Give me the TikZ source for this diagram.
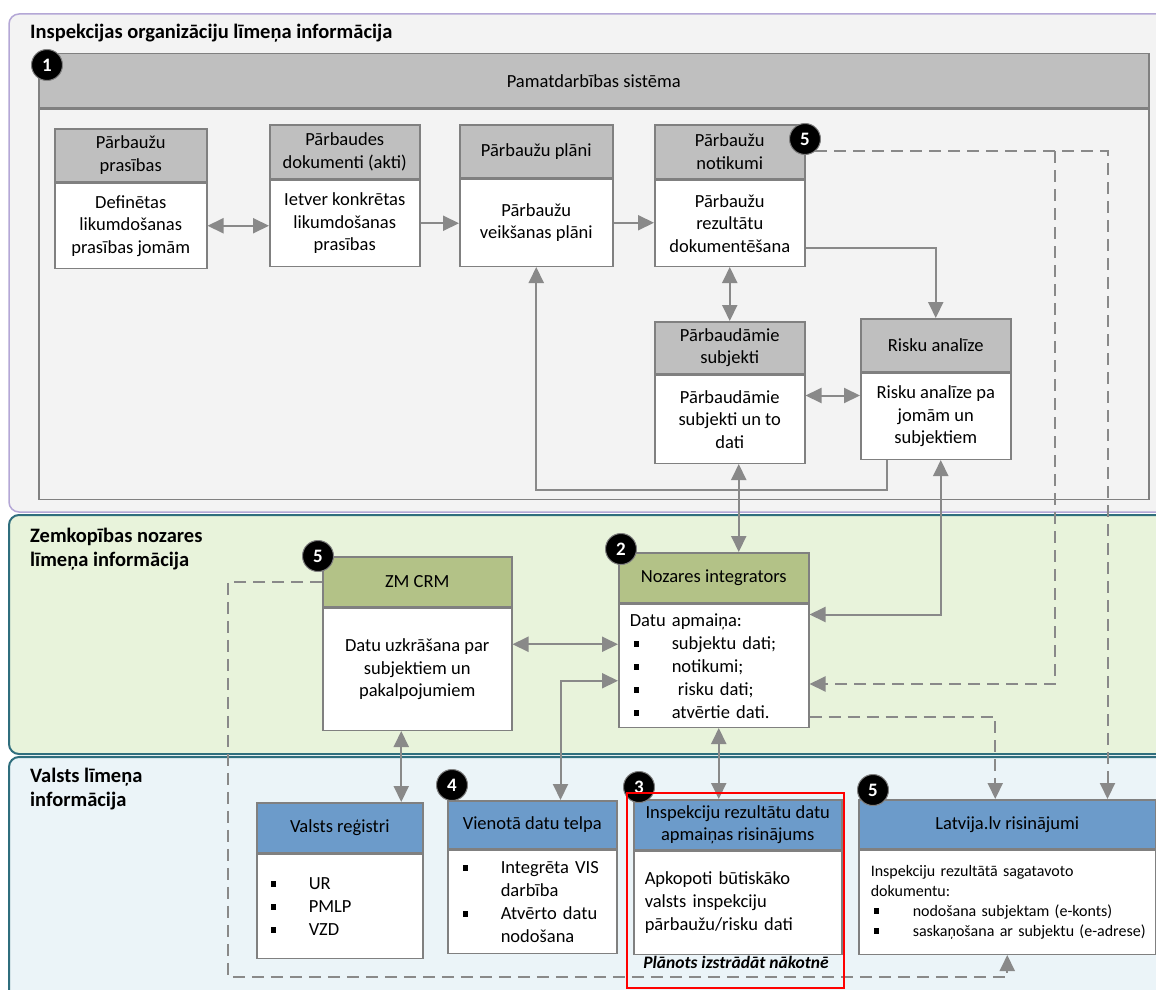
\documentclass[tikz,border=0pt]{standalone}
\usepackage{fontspec}
\setmainfont{Carlito}
\usetikzlibrary{arrows.meta}

\definecolor{panelgray}{HTML}{F3F3F3}
\definecolor{panelline}{HTML}{B4A7D6}
\definecolor{zmgreen}{HTML}{E8F3DB}
\definecolor{stateblue}{HTML}{EBF4F8}
\definecolor{tealline}{HTML}{2F6E7D}
\definecolor{hdrgray}{HTML}{BFBFBF}
\definecolor{hdrolive}{HTML}{B3C287}
\definecolor{hdrblue}{HTML}{6C9BCA}
\definecolor{boxline}{HTML}{808080}
\definecolor{connline}{HTML}{898989}

\newcommand{\bx}{\fontsize{18.5}{22.5}\selectfont}
\newcommand{\sq}{\rule[2.5pt]{5.5pt}{5.5pt}}
\newcommand{\itm}[1]{\makebox[42pt][l]{\hspace{4pt}\sq}#1}

\tikzset{
  ttl/.style={font=\fontsize{20.5}{24.5}\selectfont\bfseries, align=left, inner sep=0pt},
  hdr/.style={draw=boxline, line width=1.5pt, fill=hdrgray, anchor=north west, align=center, inner sep=0pt, font=\bx},
  body/.style={draw=boxline, line width=1.5pt, fill=white, anchor=north west, align=center, inner sep=0pt, font=\bx},
  lst/.style={body, align=left, font=\fontsize{18.5}{23}\selectfont},
  badge/.style={circle, fill=black, draw=gray, line width=1pt, text=white, font=\fontsize{19}{19}\selectfont\bfseries, minimum size=31, inner sep=0pt},
  note/.style={font=\fontsize{17.5}{20}\selectfont\bfseries\itshape, inner sep=0pt},
  conn/.style={draw=connline, line width=2pt, ->},
  bconn/.style={conn, <->},
  dconn/.style={conn, dash pattern=on 12pt off 7pt}
}

\begin{document}
\begin{tikzpicture}[x=1pt, y=-1pt, >={Triangle[length=16pt,width=15pt]}]

\useasboundingbox (0,0) rectangle (1156,990);
\clip (0,0) rectangle (1156,990);

% Levels
\draw[panelline, fill=panelgray, line width=1.5pt, rounded corners=10pt] (9,14) rectangle (1180,512);
\draw[tealline, fill=zmgreen, line width=2pt, rounded corners=10pt] (9,515) rectangle (1180,754);
\draw[tealline, fill=stateblue, line width=2pt, rounded corners=10pt] (9,757) rectangle (1180,1010);

\node[ttl, anchor=west] (lvl1) at (30,33) {Inspekcijas organizāciju līmeņa informācija};
\node[ttl, anchor=west] (lvl2) at (30,549) {Zemkopības nozares\\līmeņa informācija};
\node[ttl, anchor=west] (lvl3) at (30,789) {Valsts līmeņa\\informācija};

% Pamatdarbibas sistema
\node[hdr, minimum width=1110, minimum height=54] (sysH) at (38,53) {Pamatdarbības sistēma};
\node[body, fill=panelgray, minimum width=1110, minimum height=390] (sysB) at (sysH.south west) {};

\node[hdr, minimum width=152, minimum height=53] (prasH) at (54,128) {Pārbaužu\\prasības};
\node[body, minimum width=152, minimum height=85] (prasB) at (prasH.south west) {Definētas\\likumdošanas\\prasības jomām};
\node[hdr, minimum width=150, minimum height=54] (aktiH) at (269,124) {Pārbaudes\\dokumenti (akti)};
\node[body, minimum width=150, minimum height=86] (aktiB) at (aktiH.south west) {Ietver konkrētas\\likumdošanas\\prasības};
\node[hdr, minimum width=153, minimum height=53] (planH) at (459,124) {Pārbaužu plāni};
\node[body, minimum width=153, minimum height=87] (planB) at (planH.south west) {Pārbaužu\\veikšanas plāni};
\node[hdr, minimum width=150, minimum height=54] (notH) at (654,124) {Pārbaužu\\notikumi};
\node[body, minimum width=150, minimum height=86] (notB) at (notH.south west) {Pārbaužu\\rezultātu\\dokumentēšana};
\node[hdr, minimum width=150, minimum height=52] (subjH) at (654,321) {Pārbaudāmie\\subjekti};
\node[body, minimum width=150, minimum height=88] (subjB) at (subjH.south west) {Pārbaudāmie\\subjekti un to\\dati};
\node[hdr, minimum width=150, minimum height=53] (riskH) at (860,318) {Risku analīze};
\node[body, minimum width=150, minimum height=86] (riskB) at (riskH.south west) {Risku analīze pa\\jomām un\\subjektiem};

% Nozares limenis
\node[hdr, fill=hdrolive, minimum width=189, minimum height=50] (crmH) at (322,556) {ZM CRM};
\node[body, minimum width=189, minimum height=122] (crmB) at (crmH.south west) {Datu uzkrāšana par\\subjektiem un\\pakalpojumiem};
\node[hdr, fill=hdrolive, minimum width=190, minimum height=50] (intH) at (618,552) {Nozares integrators};
\node[lst, minimum width=190, minimum height=123, text width=168] (intB) at (intH.south west) {Datu apmaiņa:\\\itm{subjektu dati;}\\\itm{notikumi;}\\\itm{\ risku dati;}\\\itm{atvērtie dati.}};

% Valsts limenis
\node[hdr, fill=hdrblue, minimum width=166, minimum height=50] (regH) at (256,802) {Valsts reģistri};
\node[lst, minimum width=166, minimum height=104, text width=146] (regB) at (regH.south west) {\itm{UR}\\\itm{PMLP}\\\itm{VZD}};
\node[hdr, fill=hdrblue, minimum width=169, minimum height=48] (vdtH) at (447,800) {Vienotā datu telpa};
\node[lst, minimum width=169, minimum height=103, text width=147] (vdtB) at (vdtH.south west) {\itm{Integrēta VIS}\\\hspace*{42pt}darbība\\\itm{Atvērto datu}\\\hspace*{42pt}nodošana};
\node[hdr, fill=hdrblue, minimum width=208, minimum height=50] (irH) at (633,799) {Inspekciju rezultātu datu\\apmaiņas risinājums};
\node[lst, minimum width=208, minimum height=103, text width=186] (irB) at (irH.south west) {Apkopoti būtiskāko\\valsts inspekciju\\pārbaužu/risku dati};
\node[hdr, fill=hdrblue, minimum width=297, minimum height=49] (lvH) at (858,799) {Latvija.lv risinājumi};
\node[lst, font=\fontsize{16}{20}\selectfont, minimum width=297, minimum height=104, text width=273] (lvB) at (lvH.south west) {Inspekciju rezultātā sagatavoto\\dokumentu:\\\mbox{\makebox[42pt][l]{\hspace{3pt}\sq}nodošana subjektam (e-konts)}\\\mbox{\makebox[42pt][l]{\hspace{3pt}\sq}saskaņošana ar subjektu (e-adrese)}};
\node[note] (plan) at (736,962) {Plānots izstrādāt nākotnē};

% Numbers
\node[badge] (b1) at (47,65) {1};
\node[badge] (b5a) at (805,139) {5};
\node[badge] (b5b) at (318,556) {5};
\node[badge] (b2) at (621,549) {2};
\node[badge] (b4) at (452,785) {4};
\node[badge] (b3) at (639,787) {3};
\node[badge] (b5c) at (873,790) {5};

% Connectors
\draw[bconn] (prasB.east) -- (prasB.east -| aktiB.west);
\draw[conn] (aktiB.east) -- (aktiB.east -| planB.west);
\draw[conn] (planB.east) -- (planB.east -| notB.west);
\draw[bconn] (notB.south) -- (subjH.north);
\draw[conn] ([yshift=-68pt]notB.north east) -| (riskH.north);
\draw[bconn] ([yshift=-21pt]subjB.north east) -- ([yshift=-21pt]subjB.north east -| riskB.west);
\draw[conn] ([xshift=27pt]riskB.south west) -- ++(0,30) -| (planB.south);

\draw[bconn] ([xshift=9pt]subjB.south) -- ([xshift=9pt]subjB.south |- intH.north);
\draw[bconn] ([xshift=5pt]riskB.south) |- ([yshift=-11pt]intB.north east);

\draw[bconn] ([yshift=25pt]crmB.east) -- ([yshift=25pt]crmB.east -| intB.west);
\draw[bconn] ([xshift=-57pt]vdtH.north east) |- ([yshift=-15pt]intB.west);
\draw[bconn] ([xshift=-16pt]crmB.south) -- ([xshift=-16pt]crmB.south |- regH.north);
\draw[bconn] ([xshift=5pt]intB.south) -- ([xshift=5pt]intB.south |- irH.north);

% Dashed flows
\coordinate (fork) at (1055,151);
\coordinate (loop) at (228,977);
\draw[dconn] (b5a.-50) -| ([xshift=-49pt]lvH.north east);
\draw[dconn] (fork) |- ([yshift=44pt]intB.south east);
\draw[dconn] ([yshift=11pt]intB.south east) -| ([xshift=-12pt]lvH.north);
\draw[dconn] (crmH.west) -| (loop) -| (lvB.south);

% Future
\draw[red, line width=2pt] (627,793) rectangle (844,988);

\end{tikzpicture}
\end{document}
